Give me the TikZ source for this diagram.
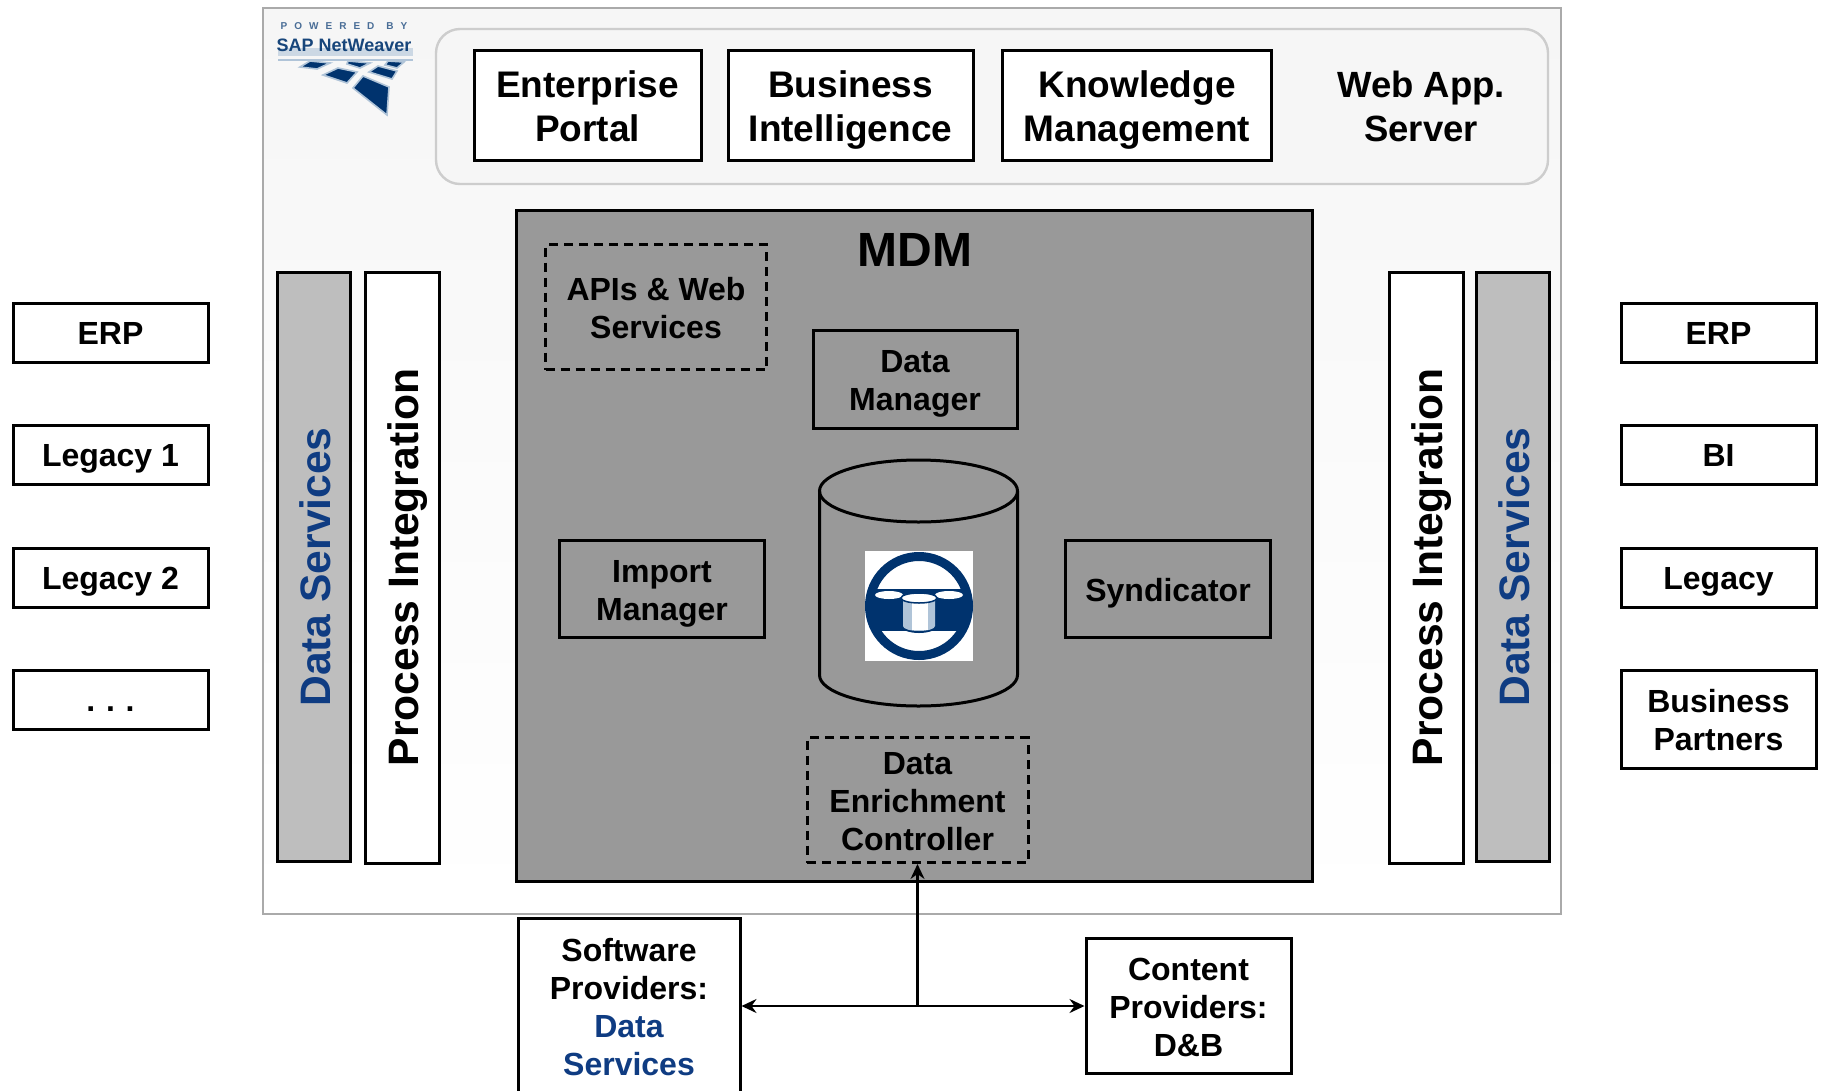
\documentclass[tikz,border=0pt]{standalone}
\usepackage{fontspec}
\setmainfont{Liberation Sans}
\usetikzlibrary{arrows.meta,positioning}
\definecolor{pNavy}{RGB}{0,51,110}
\definecolor{pBlue}{RGB}{15,60,130}
\definecolor{pFrame}{RGB}{170,170,170}
\definecolor{pRound}{RGB}{205,205,205}
\definecolor{pPale}{RGB}{246,246,246}
\definecolor{pMid}{RGB}{153,153,153}
\definecolor{pBar}{RGB}{190,190,190}
\definecolor{pIce}{RGB}{176,196,216}
\newcommand{\capstrut}{\rule[-.2em]{0pt}{1.18em}}
\tikzset{
    struts/.style={execute at begin node=\capstrut, execute at end node=\capstrut},
    appbox/.style={rectangle, draw, line width=3pt, inner sep=0pt, align=center, fill=white, struts, font=\bfseries\fontsize{37}{44}\selectfont, minimum height=110pt},
    midbox/.style={rectangle, draw, line width=3pt, inner sep=0pt, align=center, struts, font=\bfseries\fontsize{32}{38}\selectfont, minimum width=205pt, minimum height=97pt},
    dashbox/.style={midbox, dash pattern=on 9pt off 6pt},
    sidebox/.style={rectangle, draw, line width=3pt, inner sep=0pt, align=center, fill=white, struts, font=\bfseries\fontsize{32}{38}\selectfont, minimum width=195pt, minimum height=59pt},
    bar/.style={rectangle, draw, line width=3pt, inner sep=0pt, rotate=90, struts, font=\bfseries\fontsize{42.6}{48}\selectfont, minimum width=589pt, minimum height=73pt},
    chip/.style={fill=pNavy, draw=pIce, line width=1.6pt},
    link/.style={line width=2.2pt, {Stealth[length=15pt,width=14pt,inset=5pt]}-}
}

\begin{document}
\begin{tikzpicture}[x=1pt,y=-1pt]
\useasboundingbox (0,0) rectangle (1822,1090);
\clip (0,0) rectangle (1822,1090);
% platform frame
\shade[top color=pPale,bottom color=white] (263,8) rectangle (1561,914);
\draw[line width=2.6pt,pFrame] (263,8) rectangle (1561,914);
\draw[line width=2.4pt,pRound,fill=pPale,rounded corners=24pt] (436,29) rectangle (1548,184);
% logo
\node[pNavy,opacity=.7,font=\bfseries\fontsize{10}{12}\selectfont] (powered) at (344,26) {P\hspace{7pt}O\hspace{7pt}W\hspace{7pt}E\hspace{7pt}R\hspace{7pt}E\hspace{7pt}D\hspace{12pt}B\hspace{7pt}Y};
\fill[pIce,opacity=.6] (278,48) rectangle (413,56);
\node[pNavy,opacity=.9,font=\bfseries\fontsize{18}{22}\selectfont] (sapnw) at (344,45) {SAP NetWeaver};
\draw[line width=2pt,pIce] (278,60) -- (413,60);
\draw[chip] (363,76) -- (389,87) -- (387,115) -- (353,88) -- cycle;
\draw[chip] (338,68) -- (357,72) -- (347,83) -- (323,75) -- cycle;
\draw[chip] (378,66) -- (397,71) -- (392,79) -- (369,72) -- cycle;
\draw[chip] (310,61) -- (330,63) -- (317,69) -- (300,67) -- cycle;
\draw[chip] (348,61) -- (370,63) -- (360,68) -- (347,64) -- cycle;
\draw[chip] (388,61) -- (404,62) -- (397,68) -- (385,65) -- cycle;
% web application server
\node[appbox,minimum width=227pt] (portal) at (587.5,105) {\capstrut Enterprise\\Portal};
\node[appbox,minimum width=245pt] (bintel) at (850.5,105) {\capstrut Business\\Intelligence};
\node[appbox,minimum width=269pt] (kmgmt) at (1137,105) {\capstrut Knowledge\\Management};
\node[align=center,struts,font=\bfseries\fontsize{36.5}{44}\selectfont] (webapp) at (1421,105) {\capstrut Web App.\\Server};
% mdm
\draw[line width=3pt,fill=pMid] (516.5,210.5) rectangle (1312.5,881.5);
\node[struts,font=\bfseries\fontsize{48}{52}\selectfont] (mdm) at (915,248) {MDM};
\node[dashbox,minimum width=221pt,minimum height=125pt] (apis) at (656,307) {\capstrut APIs \& Web\\Services};
\node[midbox,minimum width=204pt,minimum height=98pt] (datamgr) at (915,379) {\capstrut Data\\Manager};
\draw[line width=3pt] (819.5,491) -- (819.5,675) arc (180:360:99pt and 31pt) -- (1017.5,491);
\draw[line width=3pt] (918.5,491) ellipse (99pt and 31pt);
\node[midbox] (importmgr) at (662,589) {\capstrut Import\\Manager};
\node[midbox] (syndicator) at (1168,589) {Syndicator};
\node[dashbox,minimum width=221pt,minimum height=125pt] (enrich) at (917.5,800) {\capstrut Data\\Enrichment\\Controller};
% database icon
\fill[white] (865,551) rectangle (973,661);
\begin{scope}
\clip (919,606) circle (50pt);
\fill[pNavy] (860,589) rectangle (980,631);
\end{scope}
\draw[pNavy,line width=9pt] (919,606) circle (49.5pt);
\fill[white] (889,595) ellipse (14pt and 4pt);
\fill[white] (949,595) ellipse (14pt and 4pt);
\fill[pNavy] (901,597) -- (901,626) arc (180:360:18pt and 7pt) -- (937,597) -- cycle;
\fill[pIce] (903,597) -- (903,626) arc (180:360:16pt and 5pt) -- (935,597) -- cycle;
\fill[white] (912,597) rectangle (928,630);
\draw[pNavy,line width=1.5pt,fill=white] (919,598) ellipse (18pt and 5pt);
% side bars
\node[bar,fill=pBar,text=pBlue] (dsleft) at (314,567) {Data Services};
\node[bar,fill=white,minimum height=74pt,minimum width=591pt] (pileft) at (402.5,567.5) {Process Integration};
\node[bar,fill=white,minimum height=74pt,minimum width=591pt] (piright) at (1426,567.5) {Process Integration};
\node[bar,fill=pBar,text=pBlue] (dsright) at (1513,567) {Data Services};
% outside systems
\node[sidebox] (erpleft) at (110.5,332.5) {ERP};
\node[sidebox] (legone) at (110.5,454.5) {Legacy 1};
\node[sidebox] (legtwo) at (110.5,577.5) {Legacy 2};
\node[sidebox] (more) at (110.5,699.5) {.\,\,.\,\,.};
\node[sidebox] (erpright) at (1718.5,332.5) {ERP};
\node[sidebox] (biright) at (1718.5,454.5) {BI};
\node[sidebox] (legright) at (1718.5,577.5) {Legacy};
\node[sidebox,minimum height=98pt] (partners) at (1718.5,719) {\capstrut Business\\Partners};
% providers
\node[sidebox,minimum width=222pt,minimum height=176pt] (software) at (629,1006) {\capstrut Software\\Providers:\\\textcolor{pBlue}{Data}\\\textcolor{pBlue}{Services}};
\node[sidebox,minimum width=205pt,minimum height=135pt] (content) at (1188.5,1006) {\capstrut Content\\Providers:\\D\&B};
\coordinate (branch) at (enrich.south |- software.east);
\draw[link] (enrich.south) -- (branch);
\draw[link] (software.east) -- (branch);
\draw[link] (content.west) -- (branch);
\end{tikzpicture}
\end{document}
